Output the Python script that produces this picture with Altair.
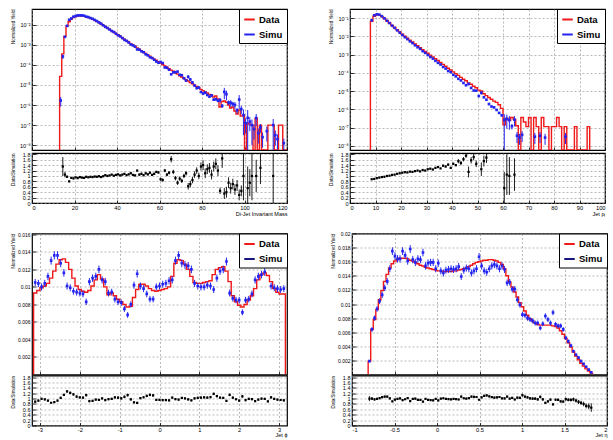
import altair as alt
import pandas as pd

FONT = "Liberation Sans"
RED = "#f01818"
BLUE = "#2424f0"
DARK_BLUE = "#16167e"
BLACK = "#000000"

# ---------------- Panel 1 : di-jet invariant mass (bins of width 1 starting at 13) ----------------
mass_start, mass_width = 13, 1
mass_data_log10 = [
    -4.57, -3.45, -2.58, -2.07, -1.85, -1.72, -1.64, -1.59, -1.57, -1.55,   # 13-22
    -1.56, -1.58, -1.61, -1.64, -1.68, -1.72, -1.77, -1.83, -1.89, -1.96,   # 23-32
    -2.03, -2.09, -2.16, -2.23, -2.29, -2.36, -2.43, -2.50, -2.57, -2.64,   # 33-42
    -2.72, -2.79, -2.86, -2.94, -3.01, -3.08, -3.15, -3.22, -3.29, -3.36,   # 43-52
    -3.43, -3.50, -3.57, -3.64, -3.71, -3.77, -3.84, -3.91, -3.98, -4.05,   # 53-62
    -4.12, -4.19, -4.26, -4.31, -4.40, -4.46, -4.54, -4.60, -4.67, -4.74,   # 63-72
    -4.80, -4.88, -4.94, -5.01, -5.08, -5.13, -5.22, -5.28, -5.34, -5.40,   # 73-82
    -5.47, -5.50, -5.60, -5.55, -5.70, -6.10, -5.82, -5.80, -5.86, -6.00,   # 83-92
    -6.15, -6.10, -6.30, -6.45, -6.25, -6.55, -6.50, None, -6.90, -6.95,    # 93-102
    -7.00, None, -6.65, None, -7.00, None, None, None, -7.00, -7.00,        # 103-112
    -7.00, None, None, -7.00, -7.00, None, None,                            # 113-119
]
mass_ratio = [
    16.0, 1.35, 1.05, 0.97, 0.80, 0.93, 0.91, 0.95, 0.92, 0.96,            # 13-22
    0.94, 0.93, 0.97, 0.95, 0.97, 0.96, 0.98, 0.97, 0.99, 0.96,            # 23-32
    0.99, 1.03, 1.00, 1.02, 1.05, 1.01, 1.04, 1.06, 1.02, 1.05,            # 33-42
    1.08, 1.03, 1.06, 1.10, 1.04, 1.02, 1.20, 1.05, 1.08, 1.03,            # 43-52
    1.10, 1.06, 1.12, 1.04, 1.08, 1.15, 1.13, 0.88, 0.85, 1.20,            # 53-62
    1.05, 1.12, 1.62, 1.15, 0.92, 0.75, 0.90, 0.82, 1.00, 1.10,            # 63-72
    0.62, 0.70, 0.85, 1.05, 1.20, 1.00, 1.35, 1.40, 1.10, 1.25,            # 73-82
    1.30, 1.05, 1.35, 1.45, 1.20, 0.45, 1.65, 0.35, 0.40, 0.75,            # 83-92
    0.55, 0.70, 0.50, 0.65, 0.30, 0.45, 1.00, None, 0.55, 0.75,            # 93-102
    1.00, None, 1.00, None, 1.30, None, None, None, None, None,            # 103-112
    1.00, None, None, None, None, None, None,                              # 113-119
]
mass_ratio_err = [
    8.00, 0.35, 0.10, 0.04, 0.03, 0.03, 0.03, 0.02, 0.02, 0.02,            # 13-22
    0.02, 0.02, 0.02, 0.02, 0.02, 0.02, 0.02, 0.02, 0.02, 0.02,            # 23-32
    0.02, 0.02, 0.02, 0.02, 0.02, 0.02, 0.02, 0.03, 0.03, 0.03,            # 33-42
    0.03, 0.03, 0.03, 0.03, 0.03, 0.03, 0.03, 0.04, 0.04, 0.04,            # 43-52
    0.04, 0.04, 0.04, 0.04, 0.04, 0.04, 0.04, 0.06, 0.06, 0.06,            # 53-62
    0.06, 0.06, 0.12, 0.08, 0.08, 0.08, 0.08, 0.08, 0.08, 0.08,            # 63-72
    0.12, 0.12, 0.12, 0.12, 0.12, 0.12, 0.15, 0.18, 0.18, 0.18,            # 73-82
    0.18, 0.18, 0.18, 0.20, 0.20, 0.12, 0.35, 0.20, 0.20, 0.20,            # 83-92
    0.20, 0.20, 0.20, 0.20, 0.20, 0.20, 0.90, None, 0.80, 0.50,            # 93-102
    0.90, None, 0.60, None, 0.60, None, None, None, None, None,            # 103-112
    1.00, None, None, None, None, None, None,                              # 113-119
]
mass_simu_only_log10 = {100: -6.9, 104: -7.2, 106: -7.4, 108: -7.6, 110: -7.3,
                        114: -7.5, 115: -7.7, 118: -7.9}
mass_simu_only_relerr = 0.7

# ---------------- Panel 2 : jet pT (bins of width 1 starting at 8) ----------------
pt_start, pt_width = 8, 1
pt_data_log10 = [
    -1.18, -0.90, -0.83, -0.84, -0.92, -1.03, -1.15, -1.27, -1.40, -1.52,   # 8-17
    -1.64, -1.76, -1.88, -1.99, -2.10, -2.21, -2.31, -2.42, -2.52, -2.62,   # 18-27
    -2.73, -2.83, -2.93, -3.03, -3.13, -3.23, -3.33, -3.44, -3.54, -3.64,   # 28-37
    -3.75, -3.85, -3.95, -4.05, -4.14, -4.25, -4.35, -4.44, -4.55, -4.63,   # 38-47
    -4.74, -4.82, -4.95, -5.00, -5.15, -5.25, -5.35, -5.45, -5.55, -5.62,   # 48-57
    -5.75, -5.95, -6.85, -6.50, -6.60, -6.45, -6.55, -6.90, None, -6.45,    # 58-67
    -6.70, -6.95, -6.45, None, -6.45, -6.95, None, -6.45, -6.95, -6.95,     # 68-77
    None, -6.95, -6.95, -6.45, -6.95, None, -6.95, None, None, None,        # 78-87
    -6.95, None, None, None, None, -6.95,                                   # 88-93
]
pt_ratio = [
    0.88, 0.89, 0.92, 0.94, 0.96, 0.97, 1.00, 1.01, 1.04, 1.05,            # 8-17
    1.08, 1.10, 1.12, 1.14, 1.13, 1.16, 1.15, 1.18, 1.20, 1.17,            # 18-27
    1.22, 1.20, 1.25, 1.27, 1.24, 1.30, 1.33, 1.28, 1.38, 1.35,            # 28-37
    1.42, 1.30, 1.45, 1.40, 1.55, 1.48, 1.62, 1.75, 1.15, 1.58,            # 38-47
    1.70, 1.45, 2.10, 1.25, 1.55, 1.68, 2.30, 2.50, 2.20, 2.60,            # 48-57
    2.80, 2.40, 0.55, 1.05, 1.00, 3.00, 1.05, None, None, None,            # 58-67
    None, None, None, None, None, None, None, None, None, None,            # 68-77
    None, None, None, None, None, None, None, None, None, None,            # 78-87
    None, None, None, None, None, None,                                    # 88-93
]
pt_ratio_err = [
    0.01, 0.01, 0.01, 0.01, 0.01, 0.01, 0.01, 0.01, 0.01, 0.01,            # 8-17
    0.01, 0.01, 0.01, 0.01, 0.01, 0.01, 0.01, 0.01, 0.02, 0.02,            # 18-27
    0.02, 0.02, 0.02, 0.02, 0.02, 0.02, 0.02, 0.02, 0.04, 0.04,            # 28-37
    0.04, 0.04, 0.04, 0.04, 0.08, 0.08, 0.08, 0.08, 0.20, 0.12,            # 38-47
    0.12, 0.12, 0.30, 0.25, 0.20, 0.20, 0.30, 0.30, 0.30, 0.30,            # 48-57
    0.30, 0.30, 0.60, 0.75, 0.70, 1.00, 0.60, None, None, None,            # 58-67
    None, None, None, None, None, None, None, None, None, None,            # 68-77
    None, None, None, None, None, None, None, None, None, None,            # 78-87
    None, None, None, None, None, None,                                    # 88-93
]
pt_simu_only_log10 = {65: -7.45, 66: -7.55, 67: -7.40, 72: -7.50, 74: -7.45, 76: -7.55, 84: -7.50}
pt_simu_only_relerr = 0.6

# ---------------- Panel 3 : jet phi (bins of width 0.08 starting at -3.16) ----------------
phi_start, phi_width = -3.16, 0.08
phi_data = [
    0.0093, 0.0096, 0.0099, 0.0101, 0.0104, 0.0110, 0.0118, 0.0126, 0.0131, 0.0132,
    0.0128, 0.0120, 0.0110, 0.0101, 0.0097, 0.0095, 0.0094, 0.0096, 0.0101, 0.0108,
    0.0114, 0.0109, 0.0100, 0.0091, 0.0093, 0.0090, 0.0086, 0.0083, 0.0080, 0.0077,
    0.0078, 0.0088, 0.0097, 0.0103, 0.0103, 0.0101, 0.0098, 0.0096, 0.0095, 0.0096,
    0.0097, 0.0098, 0.0100, 0.0112, 0.0127, 0.0131, 0.0130, 0.0126, 0.0120, 0.0112,
    0.0105, 0.0104, 0.0104, 0.0105, 0.0106, 0.0107, 0.0114, 0.0120, 0.0122, 0.0123,
    0.0118, 0.0106, 0.0090, 0.0083, 0.0079, 0.0077, 0.0080, 0.0085, 0.0090, 0.0098,
    0.0108, 0.0114, 0.0116, 0.0113, 0.0106, 0.0098, 0.0094, 0.0092, 0.0092,
]
phi_simu = [
    0.0105, 0.0104, 0.0100, 0.0104, 0.0112, 0.0130, 0.0136, 0.0136, 0.0127, 0.0116,
    0.0101, 0.0099, 0.0095, 0.0094, 0.0093, 0.0092, 0.0083, 0.0106, 0.0110, 0.0112,
    0.0120, 0.0108, 0.0106, 0.0093, 0.0094, 0.0086, 0.0083, 0.0082, 0.0075, 0.0068,
    0.0080, 0.0102, 0.0115, 0.0101, 0.0098, 0.0092, 0.0086, 0.0086, 0.0100, 0.0101,
    0.0103, 0.0104, 0.0107, 0.0108, 0.0130, 0.0136, 0.0127, 0.0125, 0.0124, 0.0120,
    0.0104, 0.0101, 0.0100, 0.0100, 0.0102, 0.0101, 0.0097, 0.0110, 0.0118, 0.0120,
    0.0129, 0.0093, 0.0087, 0.0085, 0.0085, 0.0071, 0.0085, 0.0086, 0.0092, 0.0108,
    0.0112, 0.0114, 0.0117, 0.0126, 0.0101, 0.0099, 0.0098, 0.0097, 0.0098,
]
phi_err_scale = 0.004      # statistical error = scale * sqrt(content)

# ---------------- Panel 4 : jet eta (bins of width 0.03 starting at -0.81) ----------------
eta_start, eta_width = -0.81, 0.03
eta_data = [
    0.0019, 0.0064, 0.0078, 0.0092, 0.0106, 0.0119, 0.0132, 0.0142, 0.0151, 0.0157,
    0.0161, 0.0163, 0.0165, 0.0165, 0.0165, 0.0164, 0.0162, 0.0161, 0.0159, 0.0157,
    0.0155, 0.0154, 0.0152, 0.0151, 0.0150, 0.0149, 0.0148, 0.0147, 0.0147, 0.0146,
    0.0146, 0.0146, 0.0146, 0.0147, 0.0147, 0.0148, 0.0149, 0.0150, 0.0151, 0.0153,
    0.0155, 0.0157, 0.0159, 0.0160, 0.0161, 0.0162, 0.0162, 0.0163, 0.0163, 0.0162,
    0.0161, 0.0159, 0.0156, 0.0150, 0.0140, 0.0131, 0.0124, 0.0117, 0.0110, 0.0102,
    0.0096, 0.0090, 0.0084, 0.0079, 0.0076, 0.0073, 0.0071, 0.0070, 0.0070, 0.0070,
    0.0070, 0.0070, 0.0069, 0.0068, 0.0066, 0.0062, 0.0057, 0.0051, 0.0045, 0.0039,
    0.0032, 0.0026, 0.0021, 0.0016, 0.0012, 0.0008, 0.0005, 0.0002,
]
eta_simu = [
    0.0019, 0.0064, 0.0080, 0.0093, 0.0104, 0.0113, 0.0123, 0.0132, 0.0150, 0.0175,
    0.0168, 0.0164, 0.0164, 0.0175, 0.0169, 0.0161, 0.0178, 0.0163, 0.0159, 0.0164,
    0.0163, 0.0173, 0.0154, 0.0158, 0.0159, 0.0159, 0.0150, 0.0158, 0.0147, 0.0144,
    0.0148, 0.0149, 0.0150, 0.0149, 0.0150, 0.0153, 0.0139, 0.0148, 0.0151, 0.0150,
    0.0144, 0.0147, 0.0150, 0.0167, 0.0154, 0.0147, 0.0145, 0.0150, 0.0154, 0.0156,
    0.0154, 0.0150, 0.0154, 0.0149, 0.0130, 0.0131, 0.0121, 0.0121, 0.0106, 0.0099,
    0.0085, 0.0084, 0.0080, 0.0078, 0.0076, 0.0073, 0.0073, 0.0066, 0.0072, 0.0083,
    0.0078, 0.0073, 0.0088, 0.0071, 0.0069, 0.0069, 0.0064, 0.0052, 0.0047, 0.0041,
    0.0033, 0.0028, 0.0024, 0.0019, 0.0015, 0.0011, 0.0007, 0.0003,
]
eta_err_scale = 0.0041     # statistical error = scale * sqrt(content)

LOG_FLOOR = 1e-12


# ---------------- helpers building tables from the arrays ----------------
def hist_table(start, width, values, floor):
    n = len(values)
    edges = [round(start + i * width, 6) for i in range(n + 1)]
    vals = [floor if v is None else v for v in values]
    pts = [(edges[0], floor)] + [(edges[i], vals[i]) for i in range(n)]
    pts += [(edges[n], vals[n - 1]), (edges[n], floor)]
    return pd.DataFrame({"x": [p[0] for p in pts], "y": [p[1] for p in pts],
                         "i": list(range(len(pts))), "series": "Data"})


def log_tables(start, width, data_log, ratio, ratio_err, only_simu, only_relerr):
    data = [None if d is None else 10 ** d for d in data_log]
    simu_rows, ratio_rows = [], []
    for i, d in enumerate(data):
        lo_edge = round(start + i * width, 6)
        c = lo_edge + width / 2
        if lo_edge in only_simu:
            s = 10 ** only_simu[lo_edge]
            rel = only_relerr
        elif d is not None and ratio[i] is not None:
            s = d / ratio[i]
            rel = ratio_err[i] / ratio[i]
            ratio_rows.append({"x": c, "r": ratio[i], "lo": ratio[i] - ratio_err[i],
                               "hi": ratio[i] + ratio_err[i]})
        else:
            continue
        simu_rows.append({"x": c, "y": s, "lo": max(s * (1 - rel), LOG_FLOOR), "hi": s * (1 + rel)})
    return (hist_table(start, width, data, LOG_FLOOR), pd.DataFrame(simu_rows),
            pd.DataFrame(ratio_rows))


def lin_tables(start, width, data, simu, err_scale):
    simu_rows, ratio_rows = [], []
    for i, (d, s) in enumerate(zip(data, simu)):
        c = start + i * width + width / 2
        err = err_scale * s ** 0.5
        simu_rows.append({"x": c, "y": s, "lo": s - err, "hi": s + err})
        r = d / s
        re = r * err / s
        ratio_rows.append({"x": c, "r": r, "lo": r - re, "hi": r + re})
    return hist_table(start, width, data, 0.0), pd.DataFrame(simu_rows), pd.DataFrame(ratio_rows)


W = 255
Y_EXT = 15
TY = 4      # inward tick length on y axes
TX = 3      # inward tick length on x axes
GRID = dict(grid=True, gridColor="#8c8c8c", gridDash=[2, 2], gridWidth=0.6)
TICKS_Y = dict(ticks=True, tickSize=TY, offset=-TY, tickColor=BLACK, tickWidth=0.8)
TICKS_X = dict(ticks=True, tickSize=TX, offset=-TX, tickColor=BLACK, tickWidth=0.8)
LOG_LABEL = ("'10' + ['\u2070','\u207b\u00b9','\u207b\u00b2','\u207b\u00b3','\u207b\u2074',"
             "'\u207b\u2075','\u207b\u2076','\u207b\u2077','\u207b\u2078'][round(-log(datum.value)/LN10)]")
NUM_LABEL = "toString(datum.value)"


def main_panel(hist, simu, xdom, xvals, ydom, ytype, yvals, height, simu_color, legend_color):
    xs = alt.Scale(domain=xdom, nice=False, zero=False)
    common_y = dict(values=yvals, title="Normalized Yield", titleAnchor="end", titleFontSize=4.6,
                    titlePadding=1.5, labelPadding=2, minExtent=Y_EXT + TY, maxExtent=Y_EXT + TY,
                    labelOverlap=False, **GRID, **TICKS_Y)
    if ytype == "log":
        ys = alt.Scale(type="log", domain=ydom, nice=False, clamp=True)
        yax = alt.Axis(labelExpr=LOG_LABEL, labelFontSize=5.5, **common_y)
    else:
        ys = alt.Scale(domain=ydom, nice=False, zero=False, clamp=True)
        yax = alt.Axis(labelExpr=NUM_LABEL, labelFontSize=5, **common_y)
    xax = alt.Axis(values=xvals, labels=False, title=None, **GRID, **TICKS_X)
    legend = alt.Legend(title=None, orient="top-right", offset=0, fillColor="white", strokeColor="black",
                        padding=4, symbolType="stroke", symbolStrokeWidth=2, symbolSize=110,
                        labelFont=FONT, labelFontSize=9.5, labelFontWeight="bold", labelColor="black",
                        rowPadding=4, labelOffset=3,
                        labelExpr="datum.label + '" + "\u00a0" * 15 + "'")
    line = alt.Chart(hist).mark_line(interpolate="step-after", strokeWidth=1.4, clip=True).encode(
        x=alt.X("x:Q", scale=xs, axis=xax),
        y=alt.Y("y:Q", scale=ys, axis=yax),
        order="i:Q",
        color=alt.Color("series:N", scale=alt.Scale(domain=["Data", "Simu"], range=[RED, legend_color]),
                        legend=legend),
    )
    err = alt.Chart(simu).mark_rule(color=simu_color, strokeWidth=1, clip=True).encode(
        x=alt.X("x:Q", scale=xs, axis=xax), y=alt.Y("lo:Q", scale=ys, axis=yax), y2="hi:Q")
    pts = alt.Chart(simu).mark_square(color=simu_color, size=7, opacity=1, clip=True).encode(
        x=alt.X("x:Q", scale=xs, axis=xax), y=alt.Y("y:Q", scale=ys, axis=yax))
    return alt.layer(line, err, pts).properties(width=W, height=height)


def ratio_panel(ratio, xdom, xvals, xtitle, rdom, height, x_ext):
    xs = alt.Scale(domain=xdom, nice=False, zero=False)
    ys = alt.Scale(domain=rdom, nice=False, zero=False)
    xax = alt.Axis(values=xvals, labelExpr=NUM_LABEL, title=xtitle, titleAnchor="end", titleFontSize=5.5,
                   titlePadding=0.5, labelFontSize=5.7, labelPadding=1, minExtent=x_ext + TX,
                   maxExtent=x_ext + TX, labelOverlap=False, **GRID, **TICKS_X)
    yax = alt.Axis(values=[0, 0.2, 0.4, 0.6, 0.8, 1, 1.2, 1.4, 1.6, 1.8], labelExpr=NUM_LABEL,
                   title="Data/Simulation", titleAnchor="end", titleFontSize=4.6, titlePadding=1.5,
                   labelFontSize=5.5, labelPadding=2, minExtent=Y_EXT + TY, maxExtent=Y_EXT + TY,
                   labelOverlap=False, **GRID, **TICKS_Y)
    err = alt.Chart(ratio).mark_rule(color=BLACK, strokeWidth=0.9, clip=True).encode(
        x=alt.X("x:Q", scale=xs, axis=xax), y=alt.Y("lo:Q", scale=ys, axis=yax), y2="hi:Q")
    pts = alt.Chart(ratio).mark_square(color=BLACK, size=5, opacity=1, clip=True).encode(
        x=alt.X("x:Q", scale=xs, axis=xax), y=alt.Y("r:Q", scale=ys, axis=yax))
    return alt.layer(err, pts).properties(width=W, height=height)


m_hist, m_simu, m_ratio = log_tables(mass_start, mass_width, mass_data_log10, mass_ratio,
                                     mass_ratio_err, mass_simu_only_log10, mass_simu_only_relerr)
p_hist, p_simu, p_ratio = log_tables(pt_start, pt_width, pt_data_log10, pt_ratio,
                                     pt_ratio_err, pt_simu_only_log10, pt_simu_only_relerr)
f_hist, f_simu, f_ratio = lin_tables(phi_start, phi_width, phi_data, phi_simu, phi_err_scale)
e_hist, e_simu, e_ratio = lin_tables(eta_start, eta_width, eta_data, eta_simu, eta_err_scale)

mass_ticks = [0, 20, 40, 60, 80, 100, 120]
pt_ticks = [0, 10, 20, 30, 40, 50, 60, 70, 80, 90, 100]
phi_ticks = [-3, -2, -1, 0, 1, 2, 3]
eta_ticks = [-1, -0.5, 0, 0.5, 1, 1.5, 2]

p1 = alt.vconcat(
    main_panel(m_hist, m_simu, [0, 120], mass_ticks, [10 ** -8.24, 10 ** -1.215], "log",
               [1e-8, 1e-7, 1e-6, 1e-5, 1e-4, 1e-3, 1e-2], 141, BLUE, BLUE),
    ratio_panel(m_ratio, [0, 120], mass_ticks, "Di-Jet Invariant Mass", [0, 1.85], 50, 8),
    spacing=0).resolve_scale(color="independent")
p2 = alt.vconcat(
    main_panel(p_hist, p_simu, [0, 100], pt_ticks, [10 ** -8.23, 10 ** -0.505], "log",
               [1e-8, 1e-7, 1e-6, 1e-5, 1e-4, 1e-3, 1e-2, 1e-1], 141, BLUE, BLUE),
    ratio_panel(p_ratio, [0, 100], pt_ticks, "Jet p\u209c", [0, 1.85], 50, 8),
    spacing=0).resolve_scale(color="independent")
p3 = alt.vconcat(
    main_panel(f_hist, f_simu, [-3.2, 3.2], phi_ticks, [0, 0.0161], "linear",
               [0.002, 0.004, 0.006, 0.008, 0.01, 0.012, 0.014, 0.016], 141, BLUE, DARK_BLUE),
    ratio_panel(f_ratio, [-3.2, 3.2], phi_ticks, "Jet \u03d5", [0, 1.86], 50, 6.3),
    spacing=-3).resolve_scale(color="independent")
p4 = alt.vconcat(
    main_panel(e_hist, e_simu, [-1, 2], eta_ticks, [0, 0.02], "linear",
               [0.002, 0.004, 0.006, 0.008, 0.01, 0.012, 0.014, 0.016, 0.018, 0.02], 141, BLUE,
               DARK_BLUE),
    ratio_panel(e_ratio, [-1, 2], eta_ticks, "Jet \u03b7", [0, 1.86], 50, 6.3),
    spacing=-3).resolve_scale(color="independent")

top = alt.hconcat(p1, p2, spacing=38).resolve_scale(color="independent")
bottom = alt.hconcat(p3, p4, spacing=40).resolve_scale(color="independent")

chart = alt.vconcat(top, bottom, spacing=12.5).resolve_scale(color="independent").properties(
    padding={"left": 9, "top": 7, "right": 0, "bottom": 0},
    background="white",
).configure(font=FONT).configure_view(stroke="black", strokeWidth=1.2).configure_axis(
    labelFont=FONT, titleFont=FONT, labelColor=BLACK, titleColor=BLACK, titleFontWeight="normal",
    domain=False,
)

chart.save("out.html", embed_options={"renderer": "svg", "actions": False})
